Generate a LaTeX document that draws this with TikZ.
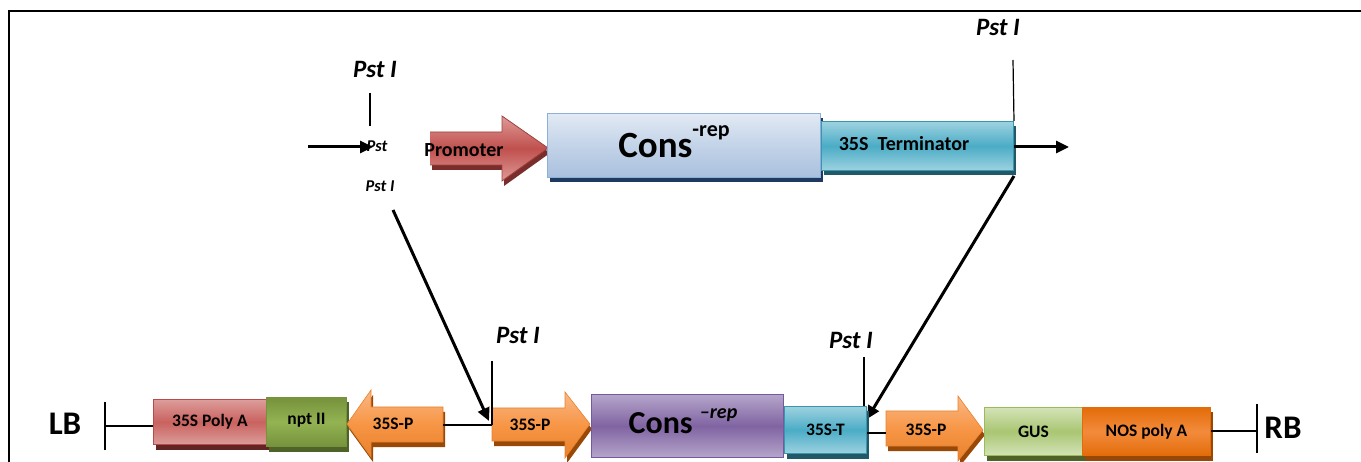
\documentclass[tikz,border=0pt]{standalone}
\usepackage{fontspec}
\setmainfont{Carlito}
\usetikzlibrary{arrows.meta,shadows}
\definecolor{promR}{HTML}{C0504D}
\definecolor{promL}{HTML}{DE9A98}
\definecolor{promS}{HTML}{7A2E2C}
\definecolor{promD}{HTML}{A0403D}
\definecolor{consT}{HTML}{E2EAF4}
\definecolor{consM}{HTML}{C3D3E8}
\definecolor{consB}{HTML}{A9C0DE}
\definecolor{consD}{HTML}{8EAFD8}
\definecolor{consS}{HTML}{1F3A60}
\definecolor{termL}{HTML}{9DD2E0}
\definecolor{termM}{HTML}{4BACC6}
\definecolor{termD}{HTML}{3A95AE}
\definecolor{termS}{HTML}{215968}
\definecolor{polL}{HTML}{DC9D9B}
\definecolor{polM}{HTML}{C9625F}
\definecolor{polD}{HTML}{B84A47}
\definecolor{polS}{HTML}{632523}
\definecolor{nptM}{HTML}{93B353}
\definecolor{nptE}{HTML}{76923C}
\definecolor{nptS}{HTML}{4F6228}
\definecolor{orL}{HTML}{FAB886}
\definecolor{orM}{HTML}{F79646}
\definecolor{orD}{HTML}{E8812C}
\definecolor{orS}{HTML}{984807}
\definecolor{purL}{HTML}{B5A5CA}
\definecolor{purM}{HTML}{8064A2}
\definecolor{purD}{HTML}{7458A0}
\definecolor{gusL}{HTML}{D4E3B8}
\definecolor{gusM}{HTML}{A9C672}
\definecolor{gusD}{HTML}{9BBB59}
\definecolor{gusS}{HTML}{4F6228}
\definecolor{nosE}{HTML}{E36C09}
\definecolor{nosM}{HTML}{F38B3C}
\definecolor{nosS}{HTML}{974806}
\begin{document}
\begin{tikzpicture}[x=1pt,y=-1pt,
  lbl/.style={font=\bfseries\fontsize{17.5}{17.5}\selectfont, inner sep=0pt},
  pst/.style={font=\bfseries\itshape\fontsize{25}{25}\selectfont, inner sep=0pt},
  pstsmall/.style={font=\bfseries\itshape\fontsize{16.5}{16.5}\selectfont, inner sep=0pt},
  tick/.style={line width=1.2pt},
  bigarrow/.style={line width=3pt, -{Triangle[length=13pt,width=12pt]}},
  shad/.style={drop shadow={shadow xshift=2pt,shadow yshift=-5pt,fill=#1,opacity=1}},
  genebox/.style={draw, line width=1pt, inner sep=0pt, anchor=north west, font=\bfseries\fontsize{17.5}{17.5}\selectfont},
]
\useasboundingbox (0,0) rectangle (1361,462);
% frame
\draw[line width=2.5pt] (9,462) -- (9,11) -- (1362,11);

% ===== top cassette =====
\node[pst] (pstT1) at (375,69) {Pst I};
\draw[tick] (370,93) -- (370,126);
\coordinate (a1s) at (308,147);
\node[pstsmall] (pstA) at (377,146) {Pst};
\node[pstsmall] (pstB) at (380,186) {Pst I};
\coordinate (a1e) at (373,147);
\draw[bigarrow] (a1s) -- (a1e);

% promoter arrow
\path[shad=promS, top color=promL, bottom color=promL, middle color=promR]
  (430,132) -- (502,132) -- (502,116) -- (548,148) -- (502,181) -- (502,165) -- (430,165) -- cycle;
\draw[promD, line width=0.8pt] (430,132) -- (502,132) -- (502,116) -- (548,148) -- (502,181) -- (502,165) -- (430,165);
\node[lbl, font=\bfseries\fontsize{20}{20}\selectfont] (prom) at (464,150) {Promoter};

% Cons box (top)
\node[genebox, draw=consD, shad=consS, top color=consT, bottom color=consB, middle color=consM,
  minimum width=273pt, minimum height=64pt] (cons1) at (547,113) {};
\node[inner sep=0pt, font=\bfseries\fontsize{37}{37}\selectfont, anchor=base] (cons1t) at (674,158)
  {Cons\raisebox{21pt}{\fontsize{22}{22}\selectfont -rep}};

% 35S terminator
\node[genebox, draw=termD, shad=termS, top color=termL, bottom color=termL, middle color=termM,
  minimum width=192pt, minimum height=49pt] (term) at (821,121) {};
\node[lbl, font=\bfseries\fontsize{20}{20}\selectfont] (termt) at (904,144) {35S\ \ Terminator};

\node[pst] (pstT2) at (998,27) {Pst I};
\draw[tick] (1013,60) -- (term.north east);
\coordinate (a2e) at (1069,147);
\draw[bigarrow] (term.east |- 0,147) -- (a2e);

% diagonal arrows
\coordinate (d1s) at (393,210);
\coordinate (d1e) at (489,421);
\draw[bigarrow] (d1s) -- (d1e);
\coordinate (d2s) at (1014,176);
\coordinate (d2e) at (867,419);
\draw[bigarrow] (d2s) -- (d2e);

% ===== bottom T-DNA =====
\node[inner sep=0pt, font=\bfseries\fontsize{33}{33}\selectfont] (LB) at (65,424) {LB};
\draw[tick] (105,402) -- (105,450);
\coordinate (lbt) at (105,426);

\node[genebox, draw=polD, shad=polS, top color=polL, bottom color=polL, middle color=polM,
  minimum width=113pt, minimum height=45pt] (poly) at (153,399) {35S Poly A};
\draw[tick] (lbt) -- (poly.west |- lbt);
\node[genebox, draw=nptE, shad=nptS, top color=nptE, bottom color=nptE, middle color=nptM,
  minimum width=80pt, minimum height=49pt, text depth=0pt] (npt) at (266,397) {\raisebox{6pt}{npt II}};

% 35S-P left-pointing
\path[shad=orS, top color=orL, bottom color=orD, middle color=orM]
  (443,407) -- (371,407) -- (371,390) -- (347,424) -- (371,457) -- (371,442) -- (443,442) -- cycle;
\draw[orD, line width=0.6pt] (443,407) -- (371,407) -- (371,390) -- (347,424) -- (371,457) -- (371,442) -- (443,442) -- cycle;
\node[lbl] (p1) at (393,424) {35S-P};
\coordinate (p1r) at (443,425);

% 35S-P right 1
\path[shad=orS, top color=orL, bottom color=orD, middle color=orM]
  (492,408) -- (565,408) -- (565,392) -- (590,424) -- (565,458) -- (565,441) -- (492,441) -- cycle;
\draw[orD, line width=0.6pt] (492,408) -- (565,408) -- (565,392) -- (590,424) -- (565,458) -- (565,441) -- (492,441) -- cycle;
\node[lbl] (p2) at (530,425) {35S-P};
\coordinate (p2l) at (492,425);
\draw[tick] (p1r) -- (p2l);
\node[pst] (pstB1) at (518,335) {Pst I};
\draw[tick] (492,361) -- (p2l);

% Cons purple
\node[genebox, draw=purD, top color=purL, bottom color=purL, middle color=purM,
  minimum width=192pt, minimum height=63pt] (cons2) at (591,394) {};
\node[inner sep=0pt, font=\bfseries\fontsize{32}{32}\selectfont, anchor=base] (cons2t) at (683,434)
  {Cons \raisebox{16pt}{\fontsize{20}{20}\selectfont\itshape –rep}};

% 35S-T
\node[genebox, draw=termD, shad=termS, top color=termL, bottom color=termL, middle color=termM,
  minimum width=82pt, minimum height=47pt] (t2) at (784,406) {35S-T};
\node[pst] (pstB2) at (851,340) {Pst I};
\draw[tick] (864,357) -- (864,406);

% 35S-P right 2
\path[shad=orS, top color=orL, bottom color=orD, middle color=orM]
  (886,411) -- (958,411) -- (958,396) -- (983,430) -- (958,461) -- (958,446) -- (886,446) -- cycle;
\draw[orD, line width=0.6pt] (886,411) -- (958,411) -- (958,396) -- (983,430) -- (958,461) -- (958,446) -- (886,446) -- cycle;
\node[lbl] (p3) at (926,430) {35S-P};
\coordinate (p3l) at (886,433);
\draw[tick] (t2.east |- p3l) -- (p3l);

% GUS & NOS
\node[genebox, draw=gusD, shad=gusS, top color=gusL, bottom color=gusL, middle color=gusM,
  minimum width=98pt, minimum height=48pt] (gus) at (984,407) {GUS};
\node[genebox, draw=nosE, shad=nosS, top color=nosE, bottom color=nosE, middle color=nosM,
  minimum width=128pt, minimum height=48pt] (nos) at (1082,407) {NOS poly A};
\coordinate (rbt) at (1257,431);
\draw[tick] (nos.east |- rbt) -- (rbt);
\draw[tick] (1257,404) -- (1257,453);
\node[inner sep=0pt, font=\bfseries\fontsize{33}{33}\selectfont] (RB) at (1283,428) {RB};
\end{tikzpicture}
\end{document}
